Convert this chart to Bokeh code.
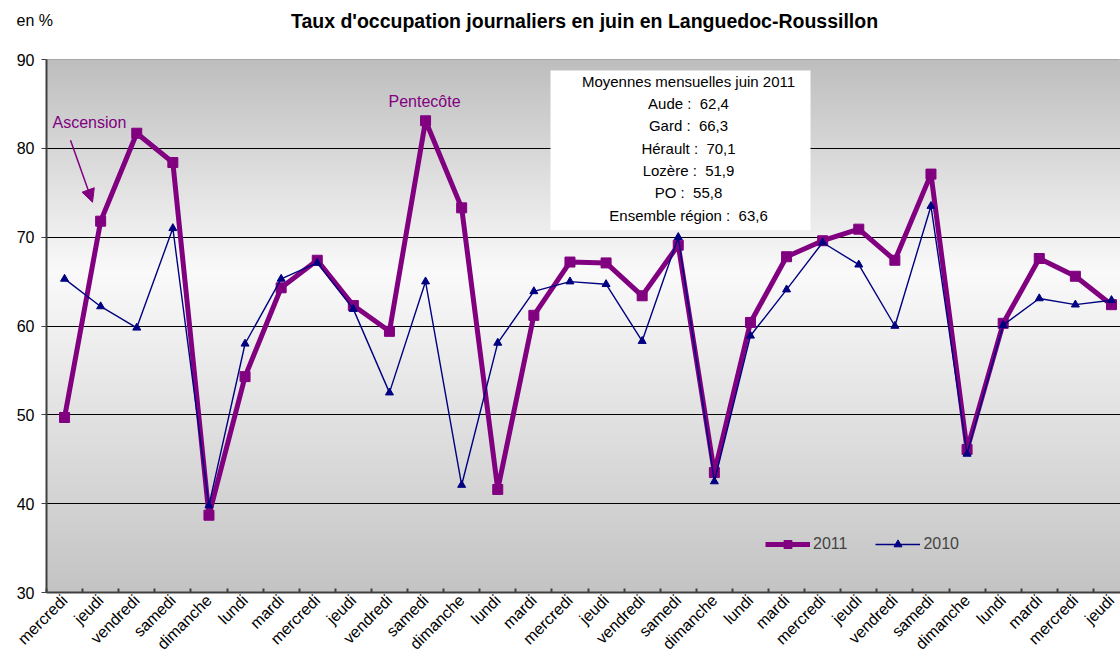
import numpy as np
from math import pi
from bokeh.plotting import figure
from bokeh.models import (Range1d, FixedTicker, Label, Legend, LegendItem,
                          Arrow, NormalHead, BoxAnnotation)
from bokeh.embed import file_html
from bokeh.resources import INLINE

# ---------------- data ----------------
days = ["mercredi", "jeudi", "vendredi", "samedi", "dimanche", "lundi", "mardi",
        "mercredi", "jeudi", "vendredi", "samedi", "dimanche", "lundi", "mardi",
        "mercredi", "jeudi", "vendredi", "samedi", "dimanche", "lundi", "mardi",
        "mercredi", "jeudi", "vendredi", "samedi", "dimanche", "lundi", "mardi",
        "mercredi", "jeudi"]
y2011 = [49.7, 71.8, 81.7, 78.4, 38.7, 54.3, 64.3, 67.4, 62.3, 59.4,
         83.1, 73.3, 41.6, 61.2, 67.2, 67.1, 63.4, 69.1, 43.5, 60.4,
         67.8, 69.6, 70.9, 67.4, 77.1, 46.1, 60.3, 67.6, 65.6, 62.4]
y2010 = [65.3, 62.2, 59.8, 71.0, 39.8, 58.0, 65.3, 67.1, 61.9, 52.5,
         65.0, 42.1, 58.1, 63.9, 65.0, 64.7, 58.3, 70.0, 42.5, 58.9,
         64.1, 69.4, 66.9, 60.0, 73.5, 45.6, 60.1, 63.1, 62.4, 62.9]
yticks = [30, 40, 50, 60, 70, 80, 90]
gridticks = [40, 50, 60, 70, 80]
NB = "\u00a0"
box_lines = ["Moyennes mensuelles juin 2011", "Aude :" + NB + NB + "62,4",
             "Gard :" + NB + NB + "66,3", "Hérault :" + NB + NB + "70,1",
             "Lozère :" + NB + NB + "51,9", "PO :" + NB + NB + "55,8",
             "Ensemble région :" + NB + NB + "63,6"]
title_text = "Taux d'occupation journaliers en juin en Languedoc-Roussillon"
unit_text = "en %"

PURPLE = "#800080"
NAVY = "#000080"
FONT = "Liberation Sans"

x = list(range(len(days)))

W, H = 1120, 662
HEAD = 40                   # height of the heading strip
FL, FT, FB = 46, 59, 592    # frame left / top / bottom (page px)

# ---------------- heading strip (title + unit) ----------------
head = figure(width=W, height=HEAD, output_backend="svg", toolbar_location=None,
              x_range=Range1d(0, W), y_range=Range1d(HEAD, 0),
              min_border=0, min_border_left=0, min_border_right=0,
              min_border_top=0, min_border_bottom=0)
head.axis.visible = False
head.grid.visible = False
head.outline_line_color = None
head.background_fill_color = "white"
head.border_fill_color = "white"
head.add_layout(Label(x=584, y=20, text=title_text, text_align="center",
                      text_baseline="middle", text_font=FONT, text_font_size="19.5px",
                      text_font_style="bold", text_color="black"))
head.add_layout(Label(x=16, y=20, text=unit_text, text_align="left",
                      text_baseline="middle", text_font=FONT, text_font_size="16px",
                      text_color="black"))

# ---------------- main chart ----------------
p = figure(width=W, height=H - HEAD, output_backend="svg", toolbar_location=None,
           x_range=Range1d(-0.5, 29.25), y_range=Range1d(30, 90),
           min_border_left=FL, min_border_right=0, min_border_top=FT - HEAD,
           min_border_bottom=H - FB)
p.border_fill_color = "white"
p.outline_line_color = "#a0a0a0"
p.outline_line_width = 1

# pixel -> data helpers for annotations (page px)
def dx(px):
    return (px - FL) / 36.1 - 0.5

def dy(py):
    return 90 - (py - FT) / 8.9

# gradient background (styling)
N = 300
vals = np.linspace(30, 90, N)
g = np.where(vals < 66, 196 + (250 - 196) * (vals - 30) / 36,
             250 - (250 - 190) * (vals - 66) / 24).astype(np.uint8)
img = np.zeros((N, 1), dtype=np.uint32)
view = img.view(dtype=np.uint8).reshape((N, 1, 4))
view[:, 0, 0] = g
view[:, 0, 1] = g
view[:, 0, 2] = g
view[:, 0, 3] = 255
p.image_rgba(image=[img], x=-0.5, y=30, dw=29.75, dh=60, level="image")

# grid
p.xgrid.visible = False
p.ygrid.ticker = FixedTicker(ticks=gridticks)
p.ygrid.grid_line_color = "black"
p.ygrid.grid_line_width = 1
p.ygrid.level = "image"

# axes
p.yaxis.ticker = FixedTicker(ticks=yticks)
p.yaxis.major_label_text_font = FONT
p.yaxis.major_label_text_font_size = "16px"
p.yaxis.major_label_text_color = "black"
p.yaxis.axis_line_color = "#404040"
p.yaxis.axis_line_width = 2
p.yaxis.major_tick_out = 5
p.yaxis.major_tick_in = 0
p.yaxis.major_tick_line_color = "#404040"
p.yaxis.minor_tick_line_color = None
p.yaxis.major_label_standoff = 7

p.xaxis.ticker = FixedTicker(ticks=x, minor_ticks=[i - 0.5 for i in range(len(days) + 1)])
p.xaxis.major_label_overrides = {i: d for i, d in enumerate(days)}
p.xaxis.major_label_orientation = pi / 4
p.xaxis.major_label_text_font = FONT
p.xaxis.major_label_text_font_size = "16px"
p.xaxis.major_label_text_color = "black"
p.xaxis.axis_line_color = "#404040"
p.xaxis.axis_line_width = 2
p.xaxis.major_tick_in = 0
p.xaxis.major_tick_out = 0
p.xaxis.minor_tick_in = 4
p.xaxis.minor_tick_out = 0
p.xaxis.minor_tick_line_color = "#404040"
p.xaxis.minor_tick_line_width = 2
p.xaxis.major_label_standoff = 5

# series
r1 = p.line(x, y2011, line_color=PURPLE, line_width=5)
s1 = p.scatter(x, y2011, marker="square", size=10, fill_color=PURPLE, line_color=PURPLE)
r2 = p.line(x, y2010, line_color=NAVY, line_width=1.4)
s2 = p.scatter(x, y2010, marker="triangle", size=8, fill_color=NAVY, line_color=NAVY)

legend = Legend(items=[LegendItem(label="2011", renderers=[r1, s1]),
                       LegendItem(label="2010", renderers=[r2, s2])],
                orientation="horizontal", location=(719, 38),
                border_line_color=None, background_fill_alpha=0,
                label_text_font=FONT, label_text_font_size="16px",
                glyph_width=45, glyph_height=20, spacing=28, label_standoff=3,
                padding=0, margin=0)
p.add_layout(legend, "center")

# info box
p.add_layout(BoxAnnotation(left=dx(550), right=dx(810), top=dy(70), bottom=dy(230),
                           fill_color="white", fill_alpha=1, line_color=None))
for i, t in enumerate(box_lines):
    p.add_layout(Label(x=dx(688), y=dy(81 + i * 22.3), text=t, text_align="center",
                       text_baseline="middle", text_font=FONT, text_font_size="15px",
                       text_color="black"))

# holiday annotations
p.add_layout(Label(x=dx(52), y=dy(122), text="Ascension", text_align="left",
                   text_baseline="middle", text_font=FONT, text_font_size="16px",
                   text_color=PURPLE))
p.add_layout(Label(x=dx(388), y=dy(101), text="Pentecôte", text_align="left",
                   text_baseline="middle", text_font=FONT, text_font_size="16px",
                   text_color=PURPLE))
p.add_layout(Arrow(end=NormalHead(size=13, fill_color=PURPLE, line_color=PURPLE),
                   x_start=dx(70), y_start=dy(140), x_end=dx(92), y_end=dy(202),
                   line_color=PURPLE, line_width=1.5))

open("out.html", "w").write(file_html([head, p], INLINE))
